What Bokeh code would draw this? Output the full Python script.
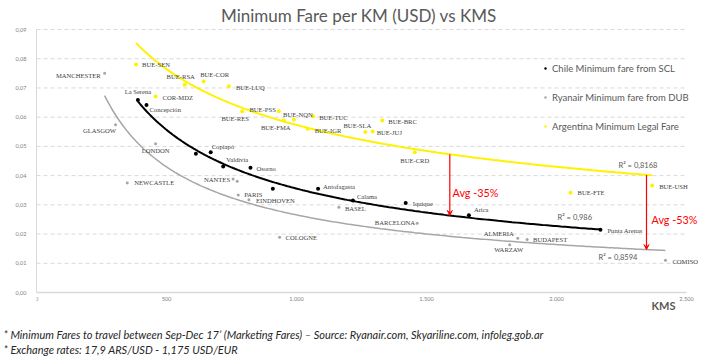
import numpy as np
from bokeh.plotting import figure
from bokeh.models import (ColumnDataSource, LabelSet, Label, Arrow, VeeHead, Range1d, Title,
                          CustomJSTickFormatter, FixedTicker, Legend, LegendItem)
from bokeh.embed import file_html
from bokeh.resources import INLINE

# ---------------- data ----------------
chile_names = ["La Serena", "Concepción", "", "Copiapó", "Valdivia", "Osorno", "",
               "Antofagasta", "Calama", "Iquique", "Arica", "Punta Arenas"]
chile_km = [390, 423, 613, 670, 718, 823, 909, 1083, 1217, 1420, 1663, 2169]
chile_fare = [0.0659, 0.0642, 0.0475, 0.0480, 0.0431, 0.0427, 0.0355, 0.0355,
              0.0315, 0.0306, 0.0264, 0.0215]

ryan_names = ["MANCHESTER", "GLASGOW", "LONDON", "NEWCASTLE", "NANTES", "", "PARIS",
              "EINDHOVEN", "BASEL", "COLOGNE", "BARCELONA", "ALMERIA", "BUDAPEST",
              "WARZAW", "COMISO"]
ryan_km = [262, 304, 458, 349, 756, 772, 776, 817, 1163, 935, 1464, 1851, 1887, 1820, 2419]
ryan_fare = [0.0750, 0.0574, 0.0509, 0.0375, 0.0388, 0.0381, 0.0334, 0.0317, 0.0292,
             0.0189, 0.0237, 0.0186, 0.0181, 0.0163, 0.0110]

arg_names = ["BUE-SEN", "BUE-RSA", "BUE-COR", "BUE-LUQ", "COR-MDZ", "BUE-RES", "BUE-PSS",
             "BUE-FMA", "BUE-NQN", "BUE-TUC", "BUE-IGR", "BUE-SLA", "BUE-JUJ", "BUE-BRC",
             "BUE-CRD", "BUE-FTE", "BUE-USH"]
arg_km = [383, 570, 643, 740, 458, 791, 932, 951, 990, 1064, 1043, 1265, 1293, 1330,
          1455, 2054, 2368]
arg_fare = [0.0780, 0.0711, 0.0722, 0.0706, 0.0671, 0.0620, 0.0620, 0.0589, 0.0592,
            0.0603, 0.0560, 0.0549, 0.0551, 0.0589, 0.0480, 0.0341, 0.0366]

# power trendlines (fare = a * km^b)
trend_a = [3.098, 3.230, 1.008]      # Chile, Ryanair, Argentina
trend_b = [-0.6467, -0.695, -0.415]

series_names = ["Chile Minimum fare from SCL", "Ryanair Minimum fare from DUB",
                "Argentina Minimum Legal Fare"]
r2_texts = ["R\u00b2 = 0,986", "R\u00b2 = 0,8594", "R\u00b2 = 0,8168"]
avg_texts = ["Avg  -35%", "Avg  -53%"]
x_ticks = [0, 500, 1000, 1500, 2000, 2500]
y_ticks = [0.00, 0.01, 0.02, 0.03, 0.04, 0.05, 0.06, 0.07, 0.08, 0.09]

title_text = "Minimum Fare per KM (USD) vs KMS"
x_title = "KMS"
note1 = "* Minimum Fares to travel between Sep-Dec 17\u2019 (Marketing Fares) \u2013 Source: Ryanair.com, Skyariline.com, infoleg.gob.ar"
note2 = "* Exchange rates: 17,9 ARS/USD -  1,175 USD/EUR"

# label placement (screen px: dx right, dy down) and alignment
chile_lbl = [(0, -8, "center"), (3, 5, "left"), None, (1, -6, "left"), (3, -7, "left"),
             (6, 1, "left"), None, (5, -2, "left"), (4, -4, "left"), (7, 0, "left"),
             (5, -6, "left"), (7, 1, "left")]
ryan_lbl = [(-4, 2, "right"), (-16, 6, "center"), (0, 7, "center"), (7, 0, "left"),
            (-3, 0.5, "right"), None, (6, 0, "left"), (7, 1, "left"), (6, 1, "left"),
            (6, 0.5, "left"), (-2, -1, "right"), (-4, -5, "right"), (6, 0, "left"),
            (-1, 5, "center"), (7, 1, "left")]
arg_lbl = [(6, 0, "left"), (-4, -8.6, "center"), (11, -7, "center"), (7, 1, "left"),
           (7, 1, "left"), (-7, 7, "center"), (-3, -2, "right"), (-8, 7, "center"),
           (4, -5, "center"), (6, 1, "left"), (7, 2, "left"), (-8, -7, "center"),
           (4, 1, "left"), (6, 1, "left"), (0, 8, "center"), (7, 0, "left"), (7, 1, "left")]

FONT = "Lato"
TXT = "#404040"
GRAY_TXT = "#595959"
YEL = "#fff200"
GRY = "#a6a6a6"
RED = "#ff0000"

# pixel geometry of the chart area (page px)
X0_PX, PX_PER_KM = 36, 650 / 2500
Y0_PX, PX_PER_UNIT = 292, 263 / 0.09
W, H = 717, 361
FRAME_BOTTOM = 325


def xd(px):
    return (px - X0_PX) / PX_PER_KM


def yd(py):
    return (Y0_PX - py) / PX_PER_UNIT


p = figure(frame_width=W - X0_PX, frame_height=FRAME_BOTTOM,
           x_range=Range1d(0, xd(W)), y_range=Range1d(yd(FRAME_BOTTOM), yd(0)),
           output_backend="svg", toolbar_location=None,
           min_border_left=X0_PX, min_border_right=0, min_border_top=0,
           min_border_bottom=H - FRAME_BOTTOM)
p.outline_line_color = None
p.xgrid.visible = False
p.ygrid.visible = False

for ax in (p.xaxis[0], p.yaxis[0]):
    ax.axis_line_color = "#d9d9d9"
    ax.major_tick_line_color = None
    ax.minor_tick_line_color = None
    ax.major_tick_out = 0
    ax.major_tick_in = 0
    ax.minor_tick_out = 0
    ax.minor_tick_in = 0
    ax.major_label_text_font = FONT
    ax.major_label_text_font_size = "5.6px"
    ax.major_label_text_color = "#7f7f7f"
p.xaxis.axis_line_width = 1.5
p.xaxis.fixed_location = 0
p.xaxis.bounds = (0, 2500)
p.yaxis.bounds = (0, 0.09)
p.xaxis.ticker = FixedTicker(ticks=x_ticks)
p.yaxis.ticker = FixedTicker(ticks=y_ticks)
p.xaxis.major_label_standoff = 4
p.yaxis.major_label_standoff = 10
p.yaxis.formatter = CustomJSTickFormatter(code="return tick.toFixed(2).replace('.', ',');")
p.xaxis.formatter = CustomJSTickFormatter(
    code="var s = Math.round(tick).toString(); return s.replace(/\\B(?=(\\d{3})+(?!\\d))/g, '.');")

# dashed horizontal gridlines
gy = [t for t in y_ticks if t > 0]
p.segment(x0=[0] * len(gy), x1=[2500] * len(gy), y0=gy, y1=gy,
          line_color="#d9d9d9", line_width=1, line_dash="4 3")

series = [
    (chile_km, chile_fare, "black", 2.0, "black", 4),
    (ryan_km, ryan_fare, GRY, 1.5, GRY, 3),
    (arg_km, arg_fare, YEL, 2.0, YEL, 4),
]
for (xs, ys, lc, lw, mc, ms), a, b in zip(series, trend_a, trend_b):
    cx = np.linspace(min(xs), max(xs), 200)
    p.line(cx, a * cx ** b, line_color=lc, line_width=lw)

pt_renderers = []
for xs, ys, lc, lw, mc, ms in series:
    r = p.scatter(xs, ys, size=ms, fill_color=mc, line_color=None, marker="circle")
    pt_renderers.append(r)


def add_labels(names, xs, ys, lbl):
    for align in ("left", "right", "center"):
        d = dict(x=[], y=[], t=[], dx=[], dy=[])
        for n, x, y, l in zip(names, xs, ys, lbl):
            if l is None or not n or l[2] != align:
                continue
            d["x"].append(x); d["y"].append(y); d["t"].append(n)
            d["dx"].append(l[0]); d["dy"].append(-l[1])
        if not d["t"]:
            continue
        ls = LabelSet(x="x", y="y", text="t", x_offset="dx", y_offset="dy",
                      source=ColumnDataSource(d), text_font=FONT, text_font_size="6.6px",
                      text_color=TXT, text_align=align, text_baseline="middle")
        p.add_layout(ls)


add_labels(chile_names, chile_km, chile_fare, chile_lbl)
add_labels(ryan_names, ryan_km, ryan_fare, ryan_lbl)
add_labels(arg_names, arg_km, arg_fare, arg_lbl)


def fv(i, x):
    return trend_a[i] * x ** trend_b[i]


for xk, lower in ((xd(449.3), 0), (xd(646), 1)):
    p.add_layout(Arrow(end=VeeHead(size=5, line_color=RED, fill_color=RED, line_width=1),
                       x_start=xk, y_start=fv(2, xk), x_end=xk, y_end=fv(lower, xk),
                       line_color=RED, line_width=1.2))

p.add_layout(Label(x=xd(452), y=yd(192), text=avg_texts[0], text_font=FONT,
                   text_font_size="10.8px", text_color=RED, text_baseline="middle"))
p.add_layout(Label(x=xd(651), y=yd(219), text=avg_texts[1], text_font=FONT,
                   text_font_size="10.8px", text_color=RED, text_baseline="middle"))

for txt, px, py in ((r2_texts[0], 557, 217.3), (r2_texts[1], 598, 256.7), (r2_texts[2], 618, 165)):
    p.add_layout(Label(x=xd(px), y=yd(py), text=txt, text_font=FONT, text_font_size="7.5px",
                       text_color=GRAY_TXT, text_baseline="middle"))

# legend
leg = Legend(items=[LegendItem(label=n, renderers=[r]) for n, r in zip(series_names, pt_renderers)],
             location=(506, FRAME_BOTTOM - 136), orientation="vertical", padding=0, margin=0,
             glyph_width=6, glyph_height=20, label_height=20, spacing=9, label_standoff=4,
             label_text_font=FONT, label_text_font_size="9.5px", label_text_color=GRAY_TXT,
             border_line_color=None, background_fill_alpha=0)
p.add_layout(leg)

# chart title and axis title
p.add_layout(Label(x=xd(358.5), y=yd(15), text=title_text, text_font=FONT,
                   text_font_size="17px", text_color=GRAY_TXT,
                   text_align="center", text_baseline="middle"))
p.add_layout(Label(x=xd(675), y=yd(305), text=x_title, text_font=FONT,
                   text_font_size="11px", text_font_style="bold",
                   text_color=GRAY_TXT, text_align="right", text_baseline="middle"))

# footnotes below the chart
for txt in (note1, note2):
    p.add_layout(Title(text=txt, align="left", offset=-33, standoff=0,
                       text_font=FONT, text_font_size="11px", text_font_style="italic",
                       text_color="#262626"), "below")

open("out.html", "w").write(file_html(p, INLINE))
